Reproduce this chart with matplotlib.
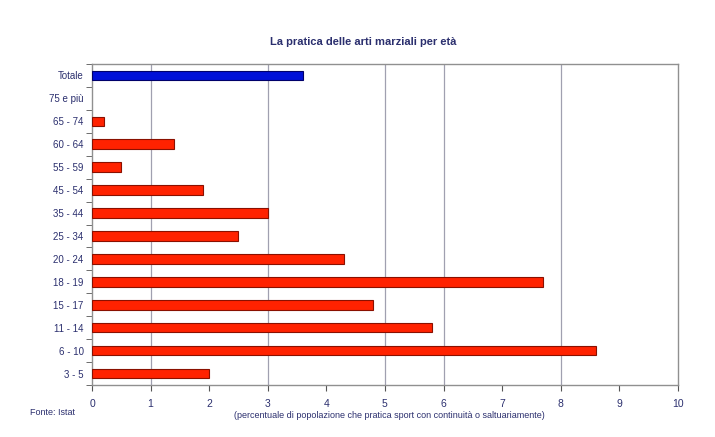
import matplotlib.pyplot as plt
import numpy as np

plt.rcParams['font.family'] = ['Liberation Sans', 'DejaVu Sans']

# age classes, top to bottom
categories = ["Totale", "75 e più", "65 - 74", "60 - 64", "55 - 59", "45 - 54",
              "35 - 44", "25 - 34", "20 - 24", "18 - 19", "15 - 17", "11 - 14",
              "6 - 10", "3 - 5"]
values = [3.6, 0.0, 0.2, 1.4, 0.5, 1.9, 3.0, 2.5, 4.3, 7.7, 4.8, 5.8, 8.6, 2.0]

text_color = "#2b2f6e"
red = "#ff2200"
blue = "#0010d8"

fig = plt.figure(figsize=(7.15, 4.37), dpi=100)
fig.patch.set_facecolor("white")
ax = fig.add_axes([0.1287, 0.119, 0.8193, 0.7345])

n = len(categories)
y = np.arange(n)[::-1]
colors = [blue] + [red] * (n - 1)
edges = ["#00006a"] + ["#8a1000"] * (n - 1)
# empty classes get no outline
edges = [e if v > 0 else "none" for e, v in zip(edges, values)]
ax.barh(y, values, height=0.42, color=colors, edgecolor=edges, linewidth=0.8, zorder=3)

ax.set_xlim(0, 10)
ax.set_ylim(-0.5, n - 0.5)
ax.set_xticks(np.arange(0, 11))
ax.set_yticks(y)
ax.set_yticklabels(categories)
ax.set_yticks(np.arange(-0.5, n), minor=True)
ax.tick_params(axis="y", which="major", length=0, pad=6, labelsize=7, labelcolor=text_color)
ax.tick_params(axis="y", which="minor", length=4, color="#555555", direction="out")
ax.tick_params(axis="x", length=4, color="#555555", labelsize=7.5, labelcolor=text_color, pad=6)

for gx in [1, 3, 5, 6, 8]:
    ax.axvline(gx, color="#a0a0b0", linewidth=0.9, zorder=1)

for s in ax.spines.values():
    s.set_color("#909090")
    s.set_linewidth(1.0)

fig.text(0.508, 0.905, "La pratica delle arti marziali per età", ha="center", va="center",
         fontsize=8, fontweight="bold", color=text_color)
fig.text(0.042, 0.055, "Fonte: Istat", ha="left", va="center", fontsize=6.5, color=text_color)
fig.text(0.545, 0.05, "(percentuale di popolazione che pratica sport con continuità o saltuariamente)",
         ha="center", va="center", fontsize=6.5, color=text_color)

fig.savefig("out.png", dpi=100)
